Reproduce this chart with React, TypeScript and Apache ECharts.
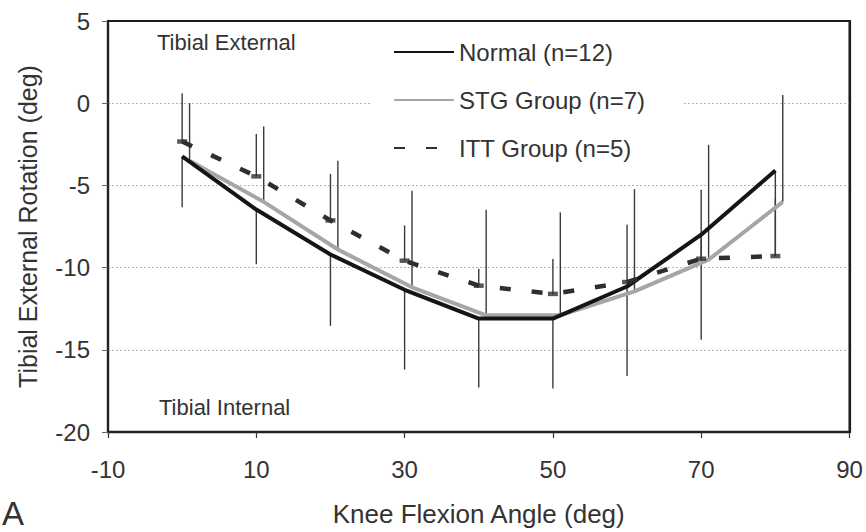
import React, { useEffect, useRef } from "react";
import * as echarts from "echarts";

const normalX = [0, 10, 20, 30, 40, 50, 60, 70, 80];
const normalMean = [-3.24, -6.47, -9.2, -11.35, -13.1, -13.1, -11.15, -8.0, -4.1];
const normalLow = [-6.33, -9.8, -13.54, -16.2, -17.3, -17.36, -16.6, -14.39, -9.32];

const stgX = [1, 11, 21, 31, 41, 51, 61, 71, 81];
const stgMean = [-3.5, -6.0, -8.9, -11.2, -12.9, -12.9, -11.45, -9.52, -6.0];
const stgHigh = [0.0, -1.42, -3.5, -5.33, -6.48, -6.64, -5.23, -2.53, 0.5];

const ittX = [0, 10, 20, 30, 40, 50, 60, 70, 80];
const ittMean = [-2.33, -4.45, -7.13, -9.58, -11.1, -11.6, -10.88, -9.46, -9.3];
const ittHigh = [0.6, -1.88, -4.3, -7.43, -10.07, -9.48, -7.4, -5.27, -5.8];

const seriesNames = ["Normal (n=12)", "STG Group (n=7)", "ITT Group (n=5)"];
const xTickMin = -10;
const xTickMax = 90;
const yTickMin = -20;
const yTickMax = 5;

const FONT = "'Liberation Sans', Arial, Helvetica, sans-serif";
const TXT = "#333";

const pairs = (xs: number[], ys: number[]) => xs.map((x, i) => [x, ys[i]]);
const bars = (xs: number[], a: number[], b: number[]) => xs.map((x, i) => [x, a[i], b[i]]);

const errRender = (params: any, api: any) => {
  const x = api.value(0);
  const p1 = api.coord([x, api.value(1)]);
  const p2 = api.coord([x, api.value(2)]);
  return {
    type: "line",
    shape: { x1: p1[0], y1: p1[1], x2: p2[0], y2: p2[1] },
    style: { stroke: "#3a3a3a", lineWidth: 1.4 },
  };
};

export default function App() {
  const ref = useRef<HTMLDivElement>(null);
  useEffect(() => {
    if (!ref.current) return;
    const chart = echarts.init(ref.current, null, { renderer: "svg" });
    const frameAxis = {
      show: true,
      z: 10,
      axisLine: { show: true, onZero: false, lineStyle: { color: "#1e1e1e", width: 2.2 } },
      axisTick: { show: false },
      axisLabel: { show: false },
      splitLine: { show: false },
    };
    chart.setOption({
      animation: false,
      backgroundColor: "#fff",
      grid: {
        left: 108,
        right: 16.5,
        top: 21,
        bottom: 100,
        containLabel: false,
        show: true,
        borderColor: "#1e1e1e",
        borderWidth: 2,
      },
      legend: {
        data: seriesNames,
        orient: "vertical",
        left: 370,
        top: 30,
        padding: [10, 37, 10, 23],
        backgroundColor: "#fff",
        itemWidth: 60,
        itemHeight: 14,
        itemGap: 24,
        itemStyle: { opacity: 0 },
        textStyle: { fontSize: 24, color: TXT, fontFamily: FONT },
      },
      xAxis: [
        {
          type: "value",
          position: "bottom",
          min: xTickMin,
          max: xTickMax,
          interval: 20,
          name: "Knee Flexion Angle (deg)",
          nameLocation: "middle",
          nameGap: 69,
          nameTextStyle: { fontSize: 26, color: TXT, fontFamily: FONT },
          axisLine: { show: true, onZero: false, lineStyle: { color: "#222", width: 2.4 } },
          axisTick: { show: true, inside: false, length: 6, lineStyle: { color: "#333", width: 1.2 } },
          axisLabel: { fontSize: 24, color: TXT, fontFamily: FONT, margin: 25 },
          splitLine: { show: false },
        },
        { type: "value", position: "top", min: xTickMin, max: xTickMax, ...frameAxis },
      ],
      yAxis: [
        {
          type: "value",
          position: "left",
          min: yTickMin,
          max: yTickMax,
          interval: 5,
          name: "Tibial External Rotation (deg)",
          nameLocation: "middle",
          nameGap: 68,
          nameRotate: 90,
          nameTextStyle: { fontSize: 25, color: TXT, fontFamily: FONT },
          axisLine: { show: true, onZero: false, lineStyle: { color: "#222", width: 2.4 } },
          axisTick: { show: true, inside: false, length: 6, lineStyle: { color: "#666", width: 1 } },
          axisLabel: { fontSize: 24, color: TXT, fontFamily: FONT, margin: 18 },
          splitLine: { show: true, lineStyle: { color: "#b5b5b5", width: 1, type: [2, 2] } },
        },
        { type: "value", position: "right", min: yTickMin, max: yTickMax, ...frameAxis },
      ],
      series: [
        {
          name: "Normal SD",
          type: "custom",
          renderItem: errRender,
          data: bars(normalX, normalMean, normalLow),
          encode: { x: 0, y: [1, 2] },
          z: 1,
        },
        {
          name: "STG SD",
          type: "custom",
          renderItem: errRender,
          data: bars(stgX, stgMean, stgHigh),
          encode: { x: 0, y: [1, 2] },
          z: 1,
        },
        {
          name: "ITT SD",
          type: "custom",
          renderItem: errRender,
          data: bars(ittX, ittMean, ittHigh),
          encode: { x: 0, y: [1, 2] },
          z: 1,
        },
        {
          name: seriesNames[1],
          type: "line",
          data: pairs(stgX, stgMean),
          symbol: "none",
          lineStyle: { color: "#a6a6a6", width: 4 },
          itemStyle: { color: "#a6a6a6" },
          z: 3,
        },
        {
          name: seriesNames[0],
          type: "line",
          data: pairs(normalX, normalMean),
          symbol: "none",
          lineStyle: { color: "#151515", width: 4 },
          itemStyle: { color: "#151515" },
          z: 4,
        },
        {
          name: seriesNames[2],
          type: "line",
          data: pairs(ittX, ittMean),
          symbol: "none",
          lineStyle: { color: "#2e2e2e", width: 4.5, type: [11, 21] },
          itemStyle: { color: "#2e2e2e" },
          z: 5,
        },
        {
          name: "ITT marks",
          type: "scatter",
          data: pairs(ittX, ittMean),
          symbol: "rect",
          symbolSize: [10, 4.5],
          itemStyle: { color: "#2e2e2e" },
          z: 5,
        },
      ],
      graphic: [
        {
          type: "text",
          left: 157,
          top: 31,
          style: { text: "Tibial External", fontSize: 22, fill: TXT, fontFamily: FONT },
        },
        {
          type: "text",
          left: 159,
          top: 396,
          style: { text: "Tibial Internal", fontSize: 22, fill: TXT, fontFamily: FONT },
        },
        {
          type: "text",
          left: 2,
          top: 497,
          style: { text: "A", fontSize: 33, fill: TXT, fontFamily: FONT },
        },
      ],
    });
    return () => chart.dispose();
  }, []);
  return (
    <div
      ref={ref}
      style={{ position: "fixed", left: 0, top: 0, width: 866, height: 532, background: "#fff" }}
    />
  );
}
